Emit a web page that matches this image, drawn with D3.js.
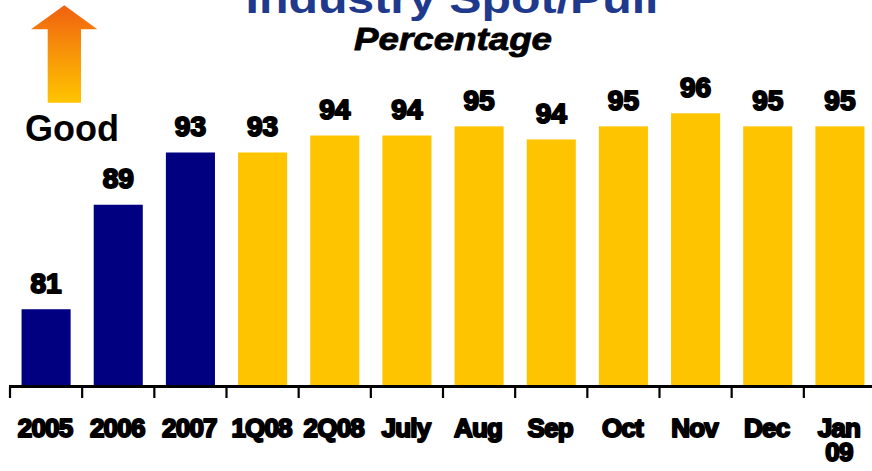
<!DOCTYPE html>
<html>
<head>
<meta charset="utf-8">
<script src="https://cdn.jsdelivr.net/npm/d3@7"></script>
<style>
  html, body { margin: 0; padding: 0; background: #fff; }
  svg { display: block; font-family: "Liberation Sans", Arial, sans-serif; }
</style>
</head>
<body>
<svg id="chart" width="872" height="471"></svg>
<script>
const categories = ["2005", "2006", "2007", "1Q08", "2Q08", "July", "Aug", "Sep", "Oct", "Nov", "Dec", "Jan\n09"];
const values = [81, 89, 93, 93, 94.3, 94.3, 95, 94, 95, 96, 95, 95];
const valueLabels = ["81", "89", "93", "93", "94", "94", "95", "94", "95", "96", "95", "95"];
const seriesType = ["annual", "annual", "annual", "recent", "recent", "recent", "recent", "recent", "recent", "recent", "recent", "recent"];
const title = "Industry Spot/Pull";
const subtitle = "Percentage";
const goodLabel = "Good";

const colors = { annual: "#000080", recent: "#FFC400" };

const svg = d3.select("#chart");

const x = d3.scaleBand()
  .domain(categories)
  .range([10, 876])
  .paddingInner(0.32)
  .paddingOuter(0.16);

const y = d3.scaleLinear()
  .domain([75.2, 96])
  .range([385, 113.3]);

// gradient for arrow
const defs = svg.append("defs");
const grad = defs.append("linearGradient")
  .attr("id", "arrowGrad")
  .attr("x1", 0).attr("y1", 0).attr("x2", 0).attr("y2", 1);
grad.append("stop").attr("offset", "0%").attr("stop-color", "#F0600F");
grad.append("stop").attr("offset", "55%").attr("stop-color", "#F99A08");
grad.append("stop").attr("offset", "100%").attr("stop-color", "#FFC400");

// title
svg.append("text")
  .attr("x", 452).attr("y", 13)
  .attr("text-anchor", "middle")
  .attr("font-size", 40)
  .attr("font-weight", "bold")
  .attr("fill", "#1F3A8C")
  .attr("textLength", 413)
  .attr("lengthAdjust", "spacingAndGlyphs")
  .text(title);

svg.append("text")
  .attr("x", 453).attr("y", 50)
  .attr("text-anchor", "middle")
  .attr("font-size", 31)
  .attr("font-weight", "bold")
  .attr("font-style", "italic")
  .attr("fill", "#000")
  .attr("stroke", "#000").attr("stroke-width", 0.8)
  .attr("textLength", 198)
  .attr("lengthAdjust", "spacingAndGlyphs")
  .text(subtitle);

// arrow
svg.append("path")
  .attr("d", "M64.3,5.3 L97.3,29.3 L81,29.3 L81,102.7 L47.7,102.7 L47.7,29.3 L31,29.3 Z")
  .attr("fill", "url(#arrowGrad)");

svg.append("text")
  .attr("x", 72).attr("y", 141)
  .attr("text-anchor", "middle")
  .attr("font-size", 36)
  .attr("font-weight", "bold")
  .attr("fill", "#000")
  .text(goodLabel);

// bars
svg.append("g").selectAll("rect")
  .data(categories)
  .join("rect")
  .attr("x", d => x(d))
  .attr("width", x.bandwidth())
  .attr("y", (d, i) => y(values[i]))
  .attr("height", (d, i) => y.range()[0] - y(values[i]))
  .attr("fill", (d, i) => colors[seriesType[i]]);

// value labels
svg.append("g").selectAll("text")
  .data(categories)
  .join("text")
  .attr("x", d => x(d) + x.bandwidth() / 2)
  .attr("y", (d, i) => y(values[i]) - 16.5)
  .attr("text-anchor", "middle")
  .attr("font-size", 28)
  .attr("font-weight", "bold")
  .attr("fill", "#000")
  .attr("stroke", "#000")
  .attr("stroke-width", 2)
  .attr("stroke-linejoin", "round")
  .text((d, i) => valueLabels[i]);

// axis
const axisY = 386.5;
const step = x.step();
const tickXs = categories.map(d => x(d) - step * x.paddingOuter());
const axis = svg.append("g");
axis.append("line")
  .attr("x1", 9).attr("x2", 872)
  .attr("y1", axisY).attr("y2", axisY)
  .attr("stroke", "#000").attr("stroke-width", 3);
axis.selectAll("line.tick")
  .data(tickXs)
  .join("line")
  .attr("class", "tick")
  .attr("x1", d => d).attr("x2", d => d)
  .attr("y1", axisY).attr("y2", 398)
  .attr("stroke", "#000").attr("stroke-width", 2.2);

const labels = axis.selectAll("text.cat")
  .data(categories)
  .join("text")
  .attr("class", "cat")
  .attr("x", d => x(d) + x.bandwidth() / 2 - 1)
  .attr("y", 437)
  .attr("text-anchor", "middle")
  .attr("font-size", 26)
  .attr("font-weight", "bold")
  .attr("fill", "#000")
  .attr("stroke", "#000")
  .attr("stroke-width", 2)
  .attr("stroke-linejoin", "round")
  .attr("letter-spacing", -0.8);
labels.each(function(d) {
  const parts = d.split("\n");
  const t = d3.select(this);
  parts.forEach((p, j) => {
    t.append("tspan")
      .attr("x", x(d) + x.bandwidth() / 2 - 1)
      .attr("dy", j === 0 ? 0 : 24)
      .text(p);
  });
});
</script>
</body>
</html>
